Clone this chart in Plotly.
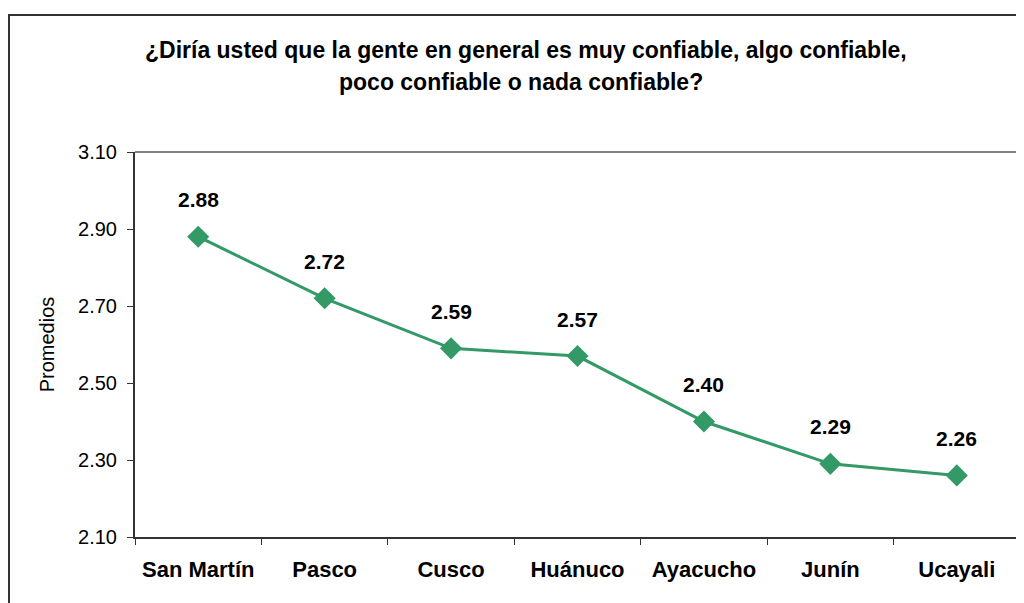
import plotly.graph_objects as go

categories = ["San Martín", "Pasco", "Cusco", "Huánuco", "Ayacucho", "Junín", "Ucayali"]
values = [2.88, 2.72, 2.59, 2.57, 2.40, 2.29, 2.26]
value_labels = ["2.88", "2.72", "2.59", "2.57", "2.40", "2.29", "2.26"]
y_ticks = [2.10, 2.30, 2.50, 2.70, 2.90, 3.10]
y_tick_labels = ["2.10", "2.30", "2.50", "2.70", "2.90", "3.10"]

title_line1 = "¿Diría usted que la gente en general es muy confiable, algo confiable,"
title_line2 = "poco confiable o nada confiable?"

# page body has an 8px margin, so the figure is offset by (8, 8)
OFF = 8
W, H = 1024 - OFF, 603 - OFF
L, R, T, B = 127, 4, 144, 66
pw = W - L - R
ph = H - T - B

green = "#339966"
font_family = "Liberation Sans, Arial, sans-serif"

fig = go.Figure()
fig.add_trace(go.Scatter(
    x=categories, y=values, mode="lines+markers",
    line=dict(color=green, width=3),
    marker=dict(symbol="diamond", size=17, color=green),
    hoverinfo="skip", showlegend=False,
))

for c, v, t in zip(categories, values, value_labels):
    fig.add_annotation(x=c, y=v, text=t, showarrow=False, yshift=37,
                       font=dict(family=font_family, size=21, color="black", weight="bold"))

def fx(px):  # window px -> paper x
    return (px - OFF - L) / pw

def fy(py):  # window px -> paper y
    return (H - B - (py - OFF)) / ph

# outer frame
fig.add_shape(type="rect", xref="paper", yref="paper",
              x0=fx(9), x1=fx(1200), y0=fy(15), y1=fy(800),
              line=dict(color="#333333", width=2), fillcolor="rgba(0,0,0,0)")
# plot area top/right gray border
fig.add_shape(type="line", xref="paper", yref="paper", x0=0, x1=1, y0=1, y1=1,
              line=dict(color="#808080", width=2))
fig.add_shape(type="line", xref="paper", yref="paper", x0=1, x1=1, y0=0, y1=1,
              line=dict(color="#808080", width=2))

fig.add_annotation(xref="paper", yref="paper", x=fx(526), y=fy(50),
                   text=title_line1, showarrow=False, xanchor="center", yanchor="middle",
                   font=dict(family=font_family, size=23, color="black", weight="bold"))
fig.add_annotation(xref="paper", yref="paper", x=fx(521), y=fy(82),
                   text=title_line2, showarrow=False, xanchor="center", yanchor="middle",
                   font=dict(family=font_family, size=23, color="black", weight="bold"))

fig.update_layout(
    width=W, height=H,
    margin=dict(l=L, r=R, t=T, b=B, pad=0),
    paper_bgcolor="white", plot_bgcolor="white",
    font=dict(family=font_family, color="black"),
    xaxis=dict(
        type="category", range=[-0.5, 6.5], showgrid=False, zeroline=False,
        showline=True, linecolor="#333333", linewidth=2,
        ticks="outside", tickson="boundaries", ticklen=6, tickcolor="#333333", tickwidth=1,
        tickfont=dict(family=font_family, size=22, color="black", weight="bold"),
        ticklabelstandoff=12,
    ),
    yaxis=dict(
        range=[2.10, 3.10], tickvals=y_ticks, ticktext=y_tick_labels,
        showgrid=False, zeroline=False,
        showline=True, linecolor="#333333", linewidth=2,
        ticks="outside", ticklen=6, tickcolor="#333333", tickwidth=1,
        tickfont=dict(family=font_family, size=20, color="black"),
        ticklabelstandoff=6,
        title=dict(text="Promedios", font=dict(family=font_family, size=20, color="black"), standoff=18),
    ),
)

fig.write_html("out.html")
